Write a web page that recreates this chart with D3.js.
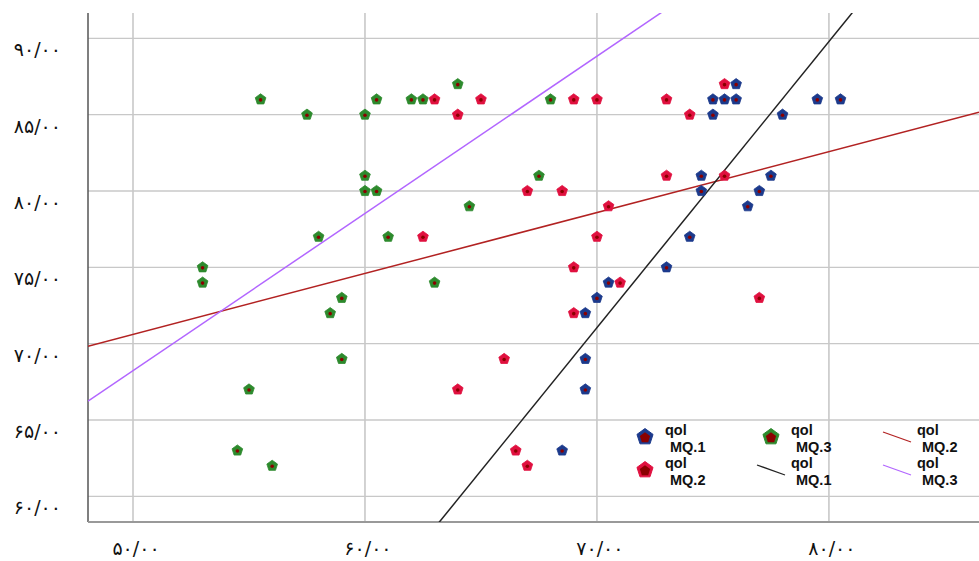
<!DOCTYPE html>
<html>
<head>
<meta charset="utf-8">
<script src="https://cdn.jsdelivr.net/npm/d3@7"></script>
<style>
  body { margin: 0; background: #fff; }
  .tick-label { font-family: "DejaVu Sans", sans-serif; font-size: 19px; fill: #111; }
  .legend text { font-family: "Liberation Sans", Arial, sans-serif; font-size: 14.5px; font-weight: bold; fill: #111; }
</style>
</head>
<body>
<svg id="chart" width="979" height="561"></svg>
<script>
// group MQ.1 (blue)
var mq1X = [75, 75.5, 76, 79.5, 80.5, 76, 75, 78, 74.5, 77.5, 74.5, 77, 76.5, 74, 73, 70.5, 70, 69.5, 69.5, 69.5, 68.5];
var mq1Y = [86, 86, 86, 86, 86, 87, 85, 85, 81, 81, 80, 80, 79, 77, 75, 74, 73, 72, 69, 67, 63];
// group MQ.2 (red)
var mq2X = [75.5, 63, 65, 69, 70, 73, 64, 74, 73, 75.5, 67, 68.5, 70.5, 62.5, 70, 69, 71, 77, 69, 66, 64, 66.5, 67];
var mq2Y = [87, 86, 86, 86, 86, 86, 85, 85, 81, 81, 80, 80, 79, 77, 77, 75, 74, 73, 72, 69, 67, 63, 62];
// group MQ.3 (green)
var mq3X = [64, 55.5, 60.5, 62, 62.5, 68, 57.5, 60, 60, 67.5, 60, 60.5, 64.5, 58, 61, 53, 53, 63, 59, 58.5, 59, 55, 54.5, 56];
var mq3Y = [87, 86, 86, 86, 86, 86, 85, 85, 81, 81, 80, 80, 79, 77, 77, 75, 74, 74, 73, 72, 69, 67, 63, 62];

// fit lines: [intercept, slope]
var fitMQ1 = [-60.13, 1.874];
var fitMQ2 = [50.66, 0.399];
var fitMQ3 = [16.73, 1.030];

var xTicks = [50, 60, 70, 80];
var yTicks = [60, 65, 70, 75, 80, 85, 90];
var legendItems = [
  { kind: "point", group: "MQ.1", col: 0, row: 0 },
  { kind: "point", group: "MQ.3", col: 1, row: 0 },
  { kind: "line", group: "MQ.2", col: 2, row: 0 },
  { kind: "point", group: "MQ.2", col: 0, row: 1 },
  { kind: "line", group: "MQ.1", col: 1, row: 1 },
  { kind: "line", group: "MQ.3", col: 2, row: 1 }
];

var pointColor = { "MQ.1": "#1c3a8c", "MQ.2": "#e0103f", "MQ.3": "#2d8a2d" };
var lineColor = { "MQ.1": "#222222", "MQ.2": "#b22222", "MQ.3": "#b266ff" };

var svg = d3.select("#chart");
var margin = { top: 13, right: 0, bottom: 39, left: 88 },
    width = +svg.attr("width") - margin.left - margin.right,
    height = +svg.attr("height") - margin.top - margin.bottom;

var x = d3.scaleLinear().domain([48.06, 86.47]).range([0, width]);
var y = d3.scaleLinear().domain([58.32, 91.66]).range([height, 0]);

// persian digits
var fa = "۰۱۲۳۴۵۶۷۸۹";
function faNum(v) {
  return d3.format(".2f")(v).replace(".", "/").replace(/[0-9]/g, function(c) { return fa[+c]; });
}

var pentagon = {
  draw: function(ctx, size) {
    var r = Math.sqrt(size / 2.378);
    for (var i = 0; i < 5; i++) {
      var a = -Math.PI / 2 + i * 2 * Math.PI / 5;
      if (i === 0) ctx.moveTo(r * Math.cos(a), r * Math.sin(a));
      else ctx.lineTo(r * Math.cos(a), r * Math.sin(a));
    }
    ctx.closePath();
  }
};

var g = svg.append("g").attr("transform", "translate(" + margin.left + "," + margin.top + ")");

g.append("clipPath").attr("id", "clip")
  .append("rect").attr("width", width).attr("height", height);

// grid
g.append("g").selectAll("line")
  .data(yTicks).enter().append("line")
    .attr("x1", 0).attr("x2", width)
    .attr("y1", function(d) { return y(d); }).attr("y2", function(d) { return y(d); })
    .attr("stroke", "#c8c8c8").attr("stroke-width", 1.3);

g.append("g").selectAll("line")
  .data(xTicks).enter().append("line")
    .attr("x1", function(d) { return x(d); }).attr("x2", function(d) { return x(d); })
    .attr("y1", 0).attr("y2", height)
    .attr("stroke", "#c8c8c8").attr("stroke-width", 1.6);

// axes lines
g.append("line").attr("x1", 0).attr("x2", 0).attr("y1", 0).attr("y2", height)
  .attr("stroke", "#555").attr("stroke-width", 1.5);
g.append("line").attr("x1", 0).attr("x2", width).attr("y1", height).attr("y2", height)
  .attr("stroke", "#999").attr("stroke-width", 2);

// tick labels
svg.append("g").selectAll("text")
  .data(yTicks).enter().append("text")
    .attr("class", "tick-label")
    .attr("x", 61)
    .attr("y", function(d) { return margin.top + y(d) + 18; })
    .attr("text-anchor", "end")
    .text(faNum);

svg.append("g").selectAll("text")
  .data(xTicks).enter().append("text")
    .attr("class", "tick-label")
    .attr("x", function(d) { return margin.left + x(d) + 3; })
    .attr("y", 555)
    .attr("text-anchor", "middle")
    .text(faNum);

// fit lines
var fits = [["MQ.2", fitMQ2], ["MQ.3", fitMQ3], ["MQ.1", fitMQ1]];
var lineG = g.append("g").attr("clip-path", "url(#clip)");
fits.forEach(function(f) {
  var xd = x.domain();
  lineG.append("line")
    .attr("x1", x(xd[0])).attr("y1", y(f[1][0] + f[1][1] * xd[0]))
    .attr("x2", x(xd[1])).attr("y2", y(f[1][0] + f[1][1] * xd[1]))
    .attr("stroke", lineColor[f[0]]).attr("stroke-width", 1.5);
});

// points
var sym = d3.symbol().type(pentagon);
function drawPoints(xs, ys, grp) {
  var pts = xs.map(function(v, i) { return [v, ys[i]]; });
  var sel = g.append("g").selectAll("g")
    .data(pts).enter().append("g")
      .attr("transform", function(d) { return "translate(" + x(d[0]) + "," + y(d[1]) + ")"; });
  sel.append("path").attr("d", sym.size(75)()).attr("fill", pointColor[grp])
    .attr("stroke", pointColor[grp]).attr("stroke-width", 0.8).attr("stroke-linejoin", "round");
  sel.append("circle").attr("r", 1.8).attr("cy", 0.5).attr("fill", "#8b0000");
}
drawPoints(mq3X, mq3Y, "MQ.3");
drawPoints(mq2X, mq2Y, "MQ.2");
drawPoints(mq1X, mq1Y, "MQ.1");

// legend
var legend = svg.append("g").attr("class", "legend");
var colX = [645, 771, 897], rowY = [437, 470];
legendItems.forEach(function(it) {
  var cx = colX[it.col], cy = rowY[it.row];
  var lg = legend.append("g").attr("transform", "translate(" + cx + "," + cy + ")");
  if (it.kind === "point") {
    lg.append("path").attr("d", sym.size(170)()).attr("fill", pointColor[it.group])
      .attr("stroke", pointColor[it.group]).attr("stroke-width", 1).attr("stroke-linejoin", "round");
    lg.append("path").attr("d", sym.size(70)()).attr("transform", "translate(0,0.8)").attr("fill", "#8b0000");
  } else {
    lg.append("line").attr("x1", -14).attr("y1", -5).attr("x2", 14).attr("y2", 5)
      .attr("stroke", lineColor[it.group]).attr("stroke-width", 1.3);
  }
  var t = lg.append("text");
  t.append("tspan").attr("x", 20).attr("y", -2).text("qol");
  t.append("tspan").attr("x", 25).attr("y", 14.5).text(it.group);
});
</script>
</body>
</html>
